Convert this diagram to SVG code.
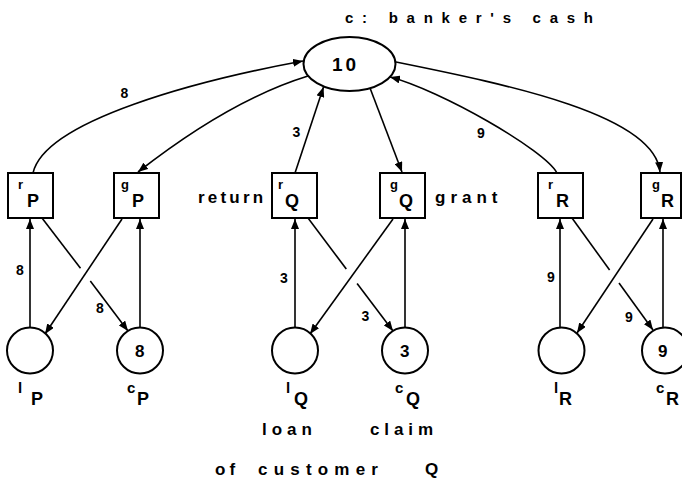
<svg xmlns="http://www.w3.org/2000/svg" width="682" height="480" viewBox="0 0 682 480">
<style>
text{font-family:"Liberation Sans",Arial,sans-serif;font-weight:bold;fill:#000}
.node{fill:#fff;stroke:#000;stroke-width:2}
.edge{fill:none;stroke:#000;stroke-width:1.6}
.sm{font-size:13px}
.sub{font-size:18px}
.lab{font-size:14px;text-anchor:middle}
.num{font-size:18px}
.word{font-size:17px}
</style>
<defs>
<marker id="ah" viewBox="0 0 10 8" refX="10" refY="4" markerWidth="10" markerHeight="8" orient="auto" markerUnits="userSpaceOnUse">
<path d="M0,0 L10,4 L0,8 z" fill="#000"/>
</marker>
</defs>
<rect width="682" height="480" fill="#fff"/>
<text id="title" x="345" y="23" style="font-size:15px" textLength="248" lengthAdjust="spacing">c: banker's cash</text>
<g id="edges">
<path class="edge" marker-end="url(#ah)" d="M33,173 C45,120 200,80 303,61"/>
<path class="edge" marker-end="url(#ah)" d="M308,76 Q230,100 138,172"/>
<path class="edge" marker-end="url(#ah)" d="M295,173 L323.5,87"/>
<path class="edge" marker-end="url(#ah)" d="M370,88 L402,172"/>
<path class="edge" marker-end="url(#ah)" d="M557,173 C545,150 440,90 390,77"/>
<path class="edge" marker-end="url(#ah)" d="M396,62 C510,85 655,115 660,172"/>
<path class="edge" marker-end="url(#ah)" d="M30,327 L30,219"/>
<path class="edge" marker-end="url(#ah)" d="M140,327 L140,219"/>
<path class="edge" d="M42,218 L80.5,268.3"/>
<path class="edge" marker-end="url(#ah)" d="M90.3,281 L128,331"/>
<path class="edge" marker-end="url(#ah)" d="M122,219 L45,334"/>
<path class="edge" marker-end="url(#ah)" d="M295,327 L295,219"/>
<path class="edge" marker-end="url(#ah)" d="M405,327 L405,219"/>
<path class="edge" d="M308,218 L346.3,269"/>
<path class="edge" marker-end="url(#ah)" d="M357.1,283.4 L393,331"/>
<path class="edge" marker-end="url(#ah)" d="M393,219 L310,334"/>
<path class="edge" marker-end="url(#ah)" d="M560,327 L560,219"/>
<path class="edge" marker-end="url(#ah)" d="M663,327 L663,219"/>
<path class="edge" d="M572,218 L609.6,270"/>
<path class="edge" marker-end="url(#ah)" d="M619,283 L653,330"/>
<path class="edge" marker-end="url(#ah)" d="M653,219 L577,333"/>
<text class="lab" x="124.5" y="98">8</text>
<text class="lab" x="296.5" y="137">3</text>
<text class="lab" x="481" y="138">9</text>
<text class="lab" x="20" y="275">8</text>
<text class="lab" x="100" y="313">8</text>
<text class="lab" x="284" y="283">3</text>
<text class="lab" x="365.5" y="321">3</text>
<text class="lab" x="551" y="282">9</text>
<text class="lab" x="629" y="322">9</text>
</g>
<g id="cash">
<ellipse class="node" cx="349.5" cy="64" rx="46" ry="27"/>
<text x="332" y="71" style="font-size:19px;letter-spacing:3px">10</text>
</g>
<g id="rP"><rect class="node" x="8" y="173" width="45" height="45"/><text><tspan class="sm" x="18" y="189">r</tspan><tspan class="sub" x="27" y="207">P</tspan></text></g>
<g id="gP"><rect class="node" x="114" y="173" width="45" height="45"/><text><tspan class="sm" x="121" y="189">g</tspan><tspan class="sub" x="132" y="207">P</tspan></text></g>
<g id="rQ"><rect class="node" x="272" y="173" width="45" height="45"/><text><tspan class="sm" x="278" y="189">r</tspan><tspan class="sub" x="285" y="207">Q</tspan></text></g>
<g id="gQ"><rect class="node" x="380" y="173" width="45" height="45"/><text><tspan class="sm" x="390" y="189">g</tspan><tspan class="sub" x="399" y="207">Q</tspan></text></g>
<g id="rR"><rect class="node" x="538" y="173" width="45" height="45"/><text><tspan class="sm" x="548" y="189">r</tspan><tspan class="sub" x="556" y="207">R</tspan></text></g>
<g id="gR"><rect class="node" x="641" y="173" width="40" height="45"/><text><tspan class="sm" x="652" y="189">g</tspan><tspan class="sub" x="661" y="207">R</tspan></text></g>
<g id="lP"><circle class="node" cx="30" cy="350.5" r="23"/><text><tspan class="sm" style="font-size:15px" x="18" y="393">l</tspan><tspan class="sub" x="31" y="405">P</tspan></text></g>
<g id="cP"><circle class="node" cx="140" cy="350.5" r="23"/><text class="num" x="135" y="357" style="font-size:17px">8</text><text><tspan class="sm" style="font-size:15px" x="127" y="393">c</tspan><tspan class="sub" x="137" y="405">P</tspan></text></g>
<g id="lQ"><circle class="node" cx="295" cy="350.5" r="23"/><text><tspan class="sm" style="font-size:15px" x="286" y="393">l</tspan><tspan class="sub" x="294" y="405">Q</tspan></text></g>
<g id="cQ"><circle class="node" cx="405" cy="350.5" r="23"/><text class="num" x="400" y="357" style="font-size:17px">3</text><text><tspan class="sm" style="font-size:15px" x="395" y="393">c</tspan><tspan class="sub" x="406" y="405">Q</tspan></text></g>
<g id="lR"><circle class="node" cx="561.5" cy="350.5" r="23"/><text><tspan class="sm" style="font-size:15px" x="554" y="393">l</tspan><tspan class="sub" x="559" y="405">R</tspan></text></g>
<g id="cR"><circle class="node" cx="665" cy="350.5" r="23"/><text class="num" x="658" y="357" style="font-size:17px">9</text><text><tspan class="sm" style="font-size:15px" x="656" y="393">c</tspan><tspan class="sub" x="666" y="405">R</tspan></text></g>
<text class="word" x="198" y="203" style="letter-spacing:3.2px">return</text>
<text class="word" x="435" y="203" style="letter-spacing:5px">grant</text>
<text class="word" x="262" y="435" style="letter-spacing:5px">loan</text>
<text class="word" x="370" y="435" style="letter-spacing:4.9px">claim</text>
<text class="word" y="475"><tspan x="215" style="letter-spacing:4px">of </tspan><tspan x="258" style="letter-spacing:6.2px">customer </tspan><tspan x="425">Q</tspan></text>
</svg>
